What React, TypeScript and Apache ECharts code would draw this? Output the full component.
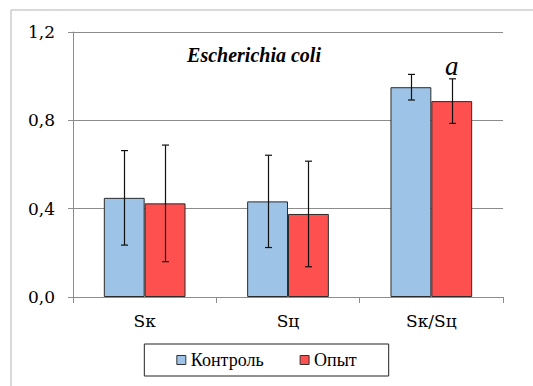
import React, { useEffect, useRef } from "react";
import * as echarts from "echarts";

const categories = ["Sк", "Sц", "Sк/Sц"];
const seriesNames = ["Контроль", "Опыт"];
const controlValues = [0.449, 0.433, 0.95];
const controlErrors = [0.214, 0.209, 0.058];
const experimentValues = [0.424, 0.376, 0.887];
const experimentErrors = [0.264, 0.239, 0.101];
const yTicks = [0, 0.4, 0.8, 1.2];
const titleText = "Escherichia coli";
const significanceMark = "a";
const significanceIndex = 2;

const FONT = "Liberation Serif";
const AXIS_FONT = "DejaVu Serif";
const BAR_FRACTION = 0.286;

function errorSeries(values: number[], errors: number[], side: number) {
  return {
    type: "custom",
    z: 5,
    silent: true,
    encode: { x: 0, y: [1, 2, 3] },
    data: values.map((v, i) => [i, v, v - errors[i], v + errors[i]]),
    renderItem: (params: any, api: any) => {
      const band = api.size([1, 0])[0];
      const offset = (side * band * BAR_FRACTION) / 2;
      const lo = api.coord([api.value(0), api.value(2)]);
      const hi = api.coord([api.value(0), api.value(3)]);
      const x = Math.round(lo[0] + offset) + 0.5;
      const cap = 3.5;
      const style = { stroke: "#111", lineWidth: 1.2 };
      return {
        type: "group",
        children: [
          { type: "line", shape: { x1: x, y1: hi[1], x2: x, y2: lo[1] }, style },
          { type: "line", shape: { x1: x - cap, y1: hi[1], x2: x + cap, y2: hi[1] }, style },
          { type: "line", shape: { x1: x - cap, y1: lo[1], x2: x + cap, y2: lo[1] }, style },
        ],
      };
    },
  };
}

export default function App() {
  const ref = useRef<HTMLDivElement>(null);
  useEffect(() => {
    if (!ref.current) return;
    const chart = echarts.init(ref.current, null, { renderer: "svg" });
    const grid = "#8c8c8c";
    chart.setOption({
      animation: false,
      backgroundColor: "#ffffff",
      grid: { left: 73, right: 30, top: 32, bottom: 89, containLabel: false },
      graphic: [
        {
          type: "rect",
          shape: { x: 11, y: 10, width: 700, height: 600 },
          style: { fill: "none", stroke: "#b4b4b4", lineWidth: 1 },
          silent: true,
          z: -10,
        },
        {
          type: "text",
          x: 254,
          y: 55,
          style: {
            text: titleText,
            fontFamily: FONT,
            fontStyle: "italic",
            fontWeight: "bold",
            fontSize: 20,
            fill: "#000",
            align: "center",
            verticalAlign: "middle",
          },
        },
      ],
      legend: {
        data: seriesNames,
        left: "center",
        top: 344,
        orient: "horizontal",
        padding: [7, 32],
        itemGap: 36,
        itemWidth: 9,
        itemHeight: 9,
        icon: "rect",
        borderColor: "#222",
        borderWidth: 1,
        textStyle: { fontFamily: FONT, fontSize: 18, color: "#000" },
        itemStyle: { borderColor: "#333", borderWidth: 1 },
      },
      xAxis: {
        type: "category",
        data: categories,
        axisLine: { show: true, lineStyle: { color: grid, width: 1 } },
        axisTick: { show: true, length: 6, lineStyle: { color: grid }, alignWithLabel: false },
        axisLabel: { fontFamily: AXIS_FONT, fontSize: 17, color: "#000", margin: 15, interval: 0 },
        splitLine: { show: false },
      },
      yAxis: {
        type: "value",
        min: 0,
        max: 1.2,
        interval: 0.4,
        axisLine: { show: true, lineStyle: { color: grid, width: 1 } },
        axisTick: { show: true, length: 5, lineStyle: { color: grid } },
        axisLabel: {
          fontFamily: AXIS_FONT,
          fontSize: 17,
          color: "#000",
          margin: 18,
          formatter: (v: number) =>
            yTicks.some((t) => Math.abs(t - v) < 1e-9) ? v.toFixed(1).replace(".", ",") : "",
        },
        splitLine: { show: true, lineStyle: { color: grid, width: 1 } },
      },
      series: [
        {
          name: seriesNames[0],
          type: "bar",
          data: controlValues,
          barGap: "0%",
          barCategoryGap: "43%",
          itemStyle: { color: "#9dc3e6", borderColor: "#2b2b2b", borderWidth: 1 },
        },
        {
          name: seriesNames[1],
          type: "bar",
          data: experimentValues.map((v, i) =>
            i === significanceIndex
              ? {
                  value: v,
                  label: {
                    show: true,
                    position: "top",
                    distance: 22,
                    formatter: significanceMark,
                    fontFamily: FONT,
                    fontStyle: "italic",
                    fontSize: 27,
                    color: "#000",
                  },
                }
              : v
          ),
          barGap: "0%",
          barCategoryGap: "43%",
          itemStyle: { color: "#ff5050", borderColor: "#2b2b2b", borderWidth: 1 },
        },
        errorSeries(controlValues, controlErrors, -1),
        errorSeries(experimentValues, experimentErrors, 1),
      ],
    });
    return () => chart.dispose();
  }, []);
  return <div ref={ref} style={{ width: 533, height: 386, position: "absolute", left: 0, top: 0 }} />;
}
